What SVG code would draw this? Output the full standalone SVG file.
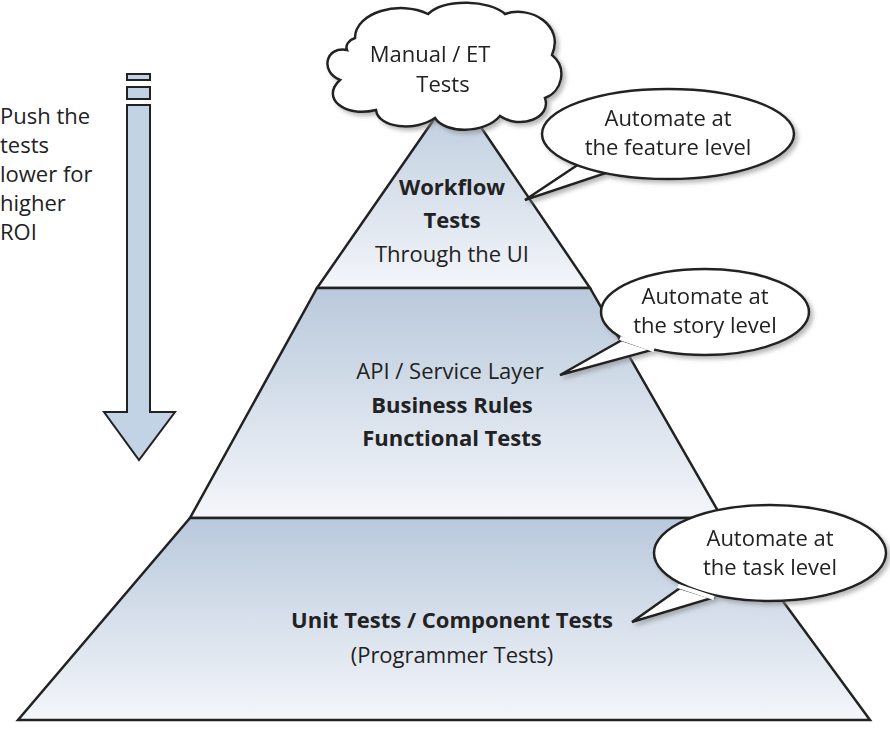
<svg xmlns="http://www.w3.org/2000/svg" width="890" height="749" viewBox="0 0 890 749">
<defs>
<linearGradient id="g" x1="0" y1="0" x2="0" y2="1"><stop offset="0" stop-color="#b9c9dc"/><stop offset="1" stop-color="#f4f6fa"/></linearGradient>
<filter id="sh" x="-10%" y="-10%" width="130%" height="130%"><feDropShadow dx="3" dy="3" stdDeviation="2" flood-color="#888" flood-opacity="0.6"/></filter>
</defs>
<style>
.t{font-family:"Open Sans","DejaVu Sans",sans-serif;font-size:22px;fill:#222;text-anchor:middle}
.b{font-weight:bold}
.o{stroke:#222;stroke-width:2.5;fill:#fff}
.p{stroke:#222;stroke-width:2.5}
</style>
<g id="pyramid">
<polygon id="tier1" class="p" fill="url(#g)" points="455,89 590,288 317,288"/>
<polygon id="tier2" class="p" fill="url(#g)" points="317,288 590,288 722,518 190,518"/>
<polygon id="tier3" class="p" fill="url(#g)" points="190,518 722,518 870,720 18,720"/>
<text class="t b" x="452" y="195">Workflow</text>
<text class="t b" x="452" y="228">Tests</text>
<text class="t" x="452" y="262">Through the UI</text>
<text class="t" x="450" y="379">API / Service Layer</text>
<text class="t b" x="452" y="413">Business Rules</text>
<text class="t b" x="452" y="446">Functional Tests</text>
<text class="t b" x="452" y="628">Unit Tests / Component Tests</text>
<text class="t" x="452" y="663">(Programmer Tests)</text>
</g>
<g id="cloud" filter="url(#sh)">
<path class="o" d="M355,38 C355,12 400,0 428,14 C445,-2 490,0 505,14 C530,5 565,25 552,55 C568,68 562,92 545,98 C552,118 520,130 500,116 C485,134 445,134 435,118 C415,132 378,128 376,110 C345,118 320,98 340,80 C320,72 325,46 347,50 C345,45 349,40 355,38 Z"/>
<text class="t" x="430" y="62">Manual / ET</text>
<text class="t" x="443" y="92">Tests</text>
</g>
<g id="arrow">
<rect x="127" y="74" width="23" height="6" fill="#c3d3e6" stroke="#222" stroke-width="2"/>
<rect x="127" y="87" width="23" height="12" fill="#c3d3e6" stroke="#222" stroke-width="2"/>
<polygon points="127,105 150,105 150,412 175,412 139,460 104,412 127,412" fill="#c3d3e6" stroke="#222" stroke-width="2"/>
<text class="t" style="text-anchor:start" x="0" y="124">Push the</text>
<text class="t" style="text-anchor:start" x="0" y="153">tests</text>
<text class="t" style="text-anchor:start" x="0" y="182">lower for</text>
<text class="t" style="text-anchor:start" x="0" y="211">higher</text>
<text class="t" style="text-anchor:start" x="0" y="240">ROI</text>
</g>
<g id="connectors">
<g id="c1" filter="url(#sh)"><path class="o" d="M585,160 L525,200 L615,170 Z"/><ellipse class="o" cx="668" cy="134" rx="126" ry="45"/><path d="M583,158 L617,170" stroke="#fff" stroke-width="4"/>
<text class="t" x="668" y="126">Automate at</text><text class="t" x="668" y="155">the feature level</text></g>
<g id="c2" filter="url(#sh)"><path class="o" d="M622,340 L560,375 L652,350 Z"/><ellipse class="o" cx="705" cy="312" rx="104" ry="43"/><path d="M620,338 L654,350" stroke="#fff" stroke-width="4"/>
<text class="t" x="705" y="304">Automate at</text><text class="t" x="705" y="333">the story level</text></g>
<g id="c3" filter="url(#sh)"><path class="o" d="M680,588 L632,622 L712,598 Z"/><ellipse class="o" cx="770" cy="553" rx="116" ry="48"/><path d="M678,586 L714,598" stroke="#fff" stroke-width="4"/>
<text class="t" x="770" y="546">Automate at</text><text class="t" x="770" y="575">the task level</text></g>
</g>
</svg>
